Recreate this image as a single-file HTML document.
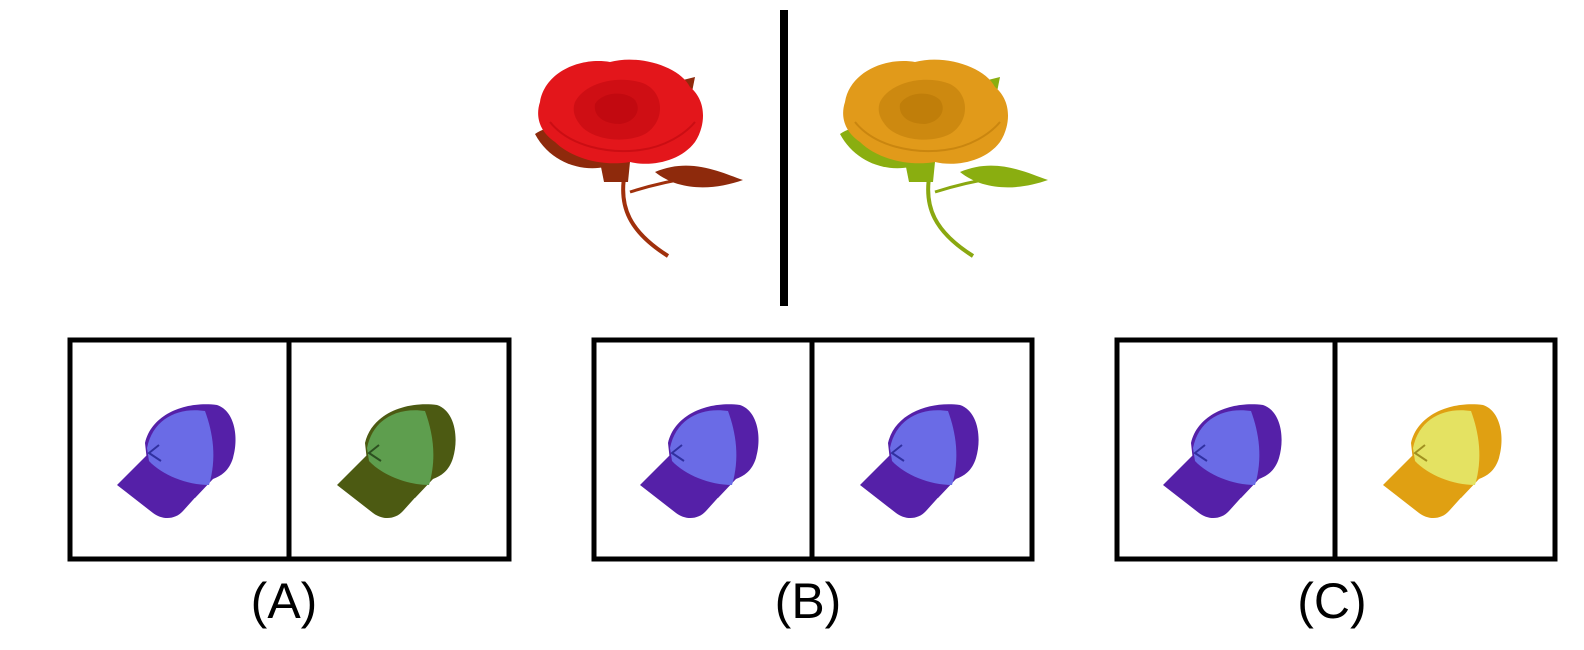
<!DOCTYPE html>
<html><head><meta charset="utf-8"><style>
html,body{margin:0;padding:0;background:#fff;width:1584px;height:650px;overflow:hidden}
svg{display:block}
text{font-family:"Liberation Sans",sans-serif}
</style></head><body>
<svg width="1584" height="650" viewBox="0 0 1584 650">
<defs>
<g id="rose">
  <path d="M95,110 C88,145 100,170 138,194" stroke="var(--stem)" stroke-width="4" fill="none"/>
  <path d="M100,130 C125,122 145,118 165,115" stroke="var(--stem)" stroke-width="3" fill="none"/>
  <path d="M5,72 C30,55 60,70 75,105 C50,110 20,100 5,72Z" fill="var(--leaf)"/>
  <path d="M125,110 C160,95 190,110 213,118 C185,128 150,130 125,110Z" fill="var(--leaf)"/>
  <path d="M70,100 L100,100 L98,120 L74,120Z" fill="var(--leaf)"/>
  <path d="M145,20 L165,15 L160,40Z" fill="var(--leaf)"/>
  <path d="M10,40 C15,10 50,-5 80,0 C110,-8 150,5 160,25 C178,40 175,65 165,80 C150,100 120,105 100,100 C70,105 40,95 25,80 C10,70 5,55 10,40Z" fill="var(--petal)"/>
  <path d="M45,40 C55,20 90,12 115,22 C135,32 135,60 115,72 C95,82 65,78 52,65 C44,56 42,48 45,40Z" fill="var(--dark)" opacity="0.35"/>
  <path d="M65,42 C72,30 95,28 105,38 C112,48 105,60 90,62 C75,62 63,55 65,42Z" fill="var(--dark)" opacity="0.35"/>
  <path d="M20,60 C40,85 80,92 110,88 C135,85 155,72 165,60" stroke="var(--dark)" stroke-width="2" fill="none" opacity="0.4"/>
</g>
<g id="cap">
  <path d="M28,40 C35,10 70,-2 100,2 C118,8 122,35 116,55 C112,68 104,73 96,76 L78,95 C60,90 40,75 30,58Z" fill="var(--dark)"/>
  <path d="M0,82 L32,50 C45,72 62,84 84,88 L66,108 C58,117 45,117 36,110Z" fill="var(--dark)"/>
  <path d="M30,45 C36,15 62,4 88,8 C96,30 100,55 92,82 C70,82 45,72 32,58Z" fill="var(--light)"/>
  <path d="M42,42 L32,50 L44,58" stroke="var(--line)" stroke-width="2" fill="none"/>
</g>
</defs>

<rect x="780" y="10" width="8" height="296" fill="#000"/>

<g transform="translate(530,62)" style="--petal:#e3161b;--dark:#a80008;--leaf:#8e2a0c;--stem:#a0300c"><use href="#rose"/></g>
<g transform="translate(835,62)" style="--petal:#e19a1a;--dark:#a86a00;--leaf:#8aae10;--stem:#8aa810"><use href="#rose"/></g>

<g>
  <rect x="70" y="340" width="439" height="219" fill="none" stroke="#000" stroke-width="5"/>
  <line x1="289" y1="340" x2="289" y2="559" stroke="#000" stroke-width="5"/>
  <g transform="translate(117,403)" style="--dark:#5520a8;--light:#6a6be6;--line:#3030a0"><use href="#cap"/></g>
  <g transform="translate(337,403)" style="--dark:#4c5a12;--light:#5e9e4e;--line:#2c5020"><use href="#cap"/></g>
  <text x="284" y="618" font-size="50" text-anchor="middle">(A)</text>
</g>
<g>
  <rect x="594" y="340" width="438" height="219" fill="none" stroke="#000" stroke-width="5"/>
  <line x1="812" y1="340" x2="812" y2="559" stroke="#000" stroke-width="5"/>
  <g transform="translate(640,403)" style="--dark:#5520a8;--light:#6a6be6;--line:#3030a0"><use href="#cap"/></g>
  <g transform="translate(860,403)" style="--dark:#5520a8;--light:#6a6be6;--line:#3030a0"><use href="#cap"/></g>
  <text x="808" y="618" font-size="50" text-anchor="middle">(B)</text>
</g>
<g>
  <rect x="1117" y="340" width="438" height="219" fill="none" stroke="#000" stroke-width="5"/>
  <line x1="1335" y1="340" x2="1335" y2="559" stroke="#000" stroke-width="5"/>
  <g transform="translate(1163,403)" style="--dark:#5520a8;--light:#6a6be6;--line:#3030a0"><use href="#cap"/></g>
  <g transform="translate(1383,403)" style="--dark:#e0a012;--light:#e4e262;--line:#a09020"><use href="#cap"/></g>
  <text x="1332" y="618" font-size="50" text-anchor="middle">(C)</text>
</g>
</svg>
</body></html>
